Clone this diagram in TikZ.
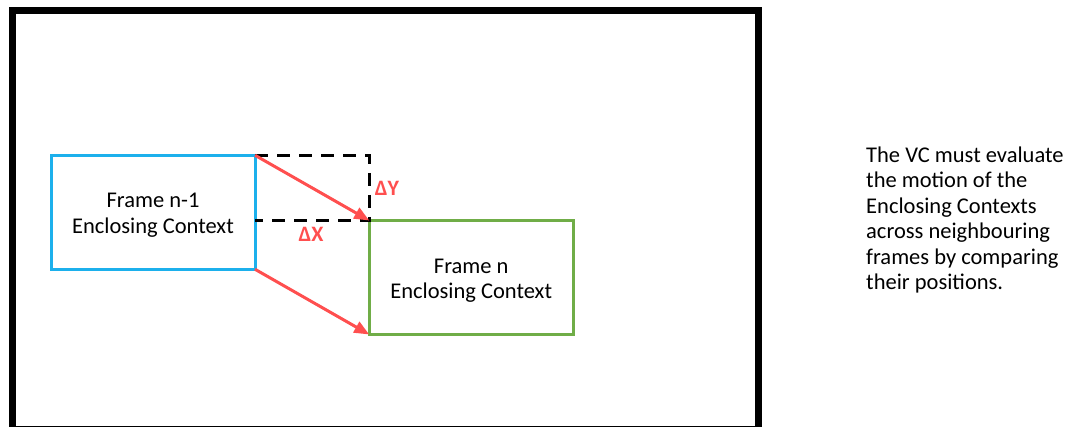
\documentclass[tikz,border=0pt]{standalone}
\usepackage{fontspec}
\setmainfont{Carlito}
\usetikzlibrary{arrows.meta}
\definecolor{ctxblue}{HTML}{1CB0EC}
\definecolor{ctxgreen}{HTML}{70AD47}
\definecolor{motionred}{HTML}{FF4F4F}
\begin{document}
\begin{tikzpicture}[x=1pt,y=-1pt,
  ctxbox/.style={draw, line width=3pt, minimum width=204pt, minimum height=114pt,
    outer sep=0pt},
  ctxlabel/.style={align=center, inner sep=0pt, font=\fontsize{22.5}{25.5}\selectfont},
  motion/.style={draw=motionred, line width=3pt,
    -{Triangle[length=15pt,width=12pt]}},
  delta/.style={text=motionred, font=\bfseries\fontsize{22}{24}\selectfont, inner sep=0pt},
  offsetbox/.style={draw=black, line width=3pt, dash pattern=on 13pt off 9pt}]
\useasboundingbox (0,0) rectangle (1067,427);
% video frame
\draw[line width=7pt] (12.5,10.5) rectangle (758.5,429);
% enclosing contexts of two neighbouring frames
\node[ctxbox, draw=ctxblue] (prev) at (153,212.25) {};
\node[ctxbox, draw=ctxgreen] (cur) at (471.25,277.5) {};
\node[ctxlabel] (prevlabel) at ([yshift=-3pt]prev.center) {Frame n-1\\Enclosing Context};
\node[ctxlabel] (curlabel) at ([yshift=-3pt]cur.center) {Frame n\\Enclosing Context};
% displacement between the two boxes (open on the side of the first box)
\coordinate (corner) at (cur.north west |- prev.north east);
\coordinate (back) at (prev.north east |- cur.north west);
\draw[offsetbox] (prev.north east) -- (corner) -- (cur.north west) -- (back);
% motion vectors
\draw[motion] (prev.north east) -- (cur.north west);
\draw[motion] (prev.south east) -- (cur.south west);
\node[delta] (dy) at (387,188) {ΔY};
\node[delta] (dx) at (311,234.5) {ΔX};
% explanation
\node[anchor=north west, inner sep=0pt, align=left,
  font=\fontsize{22.5}{25.5}\selectfont] (note) at (866,146.5)
  {The VC must evaluate\\the motion of the\\Enclosing Contexts\\across neighbouring\\frames by comparing\\their positions.};
\end{tikzpicture}
\end{document}
